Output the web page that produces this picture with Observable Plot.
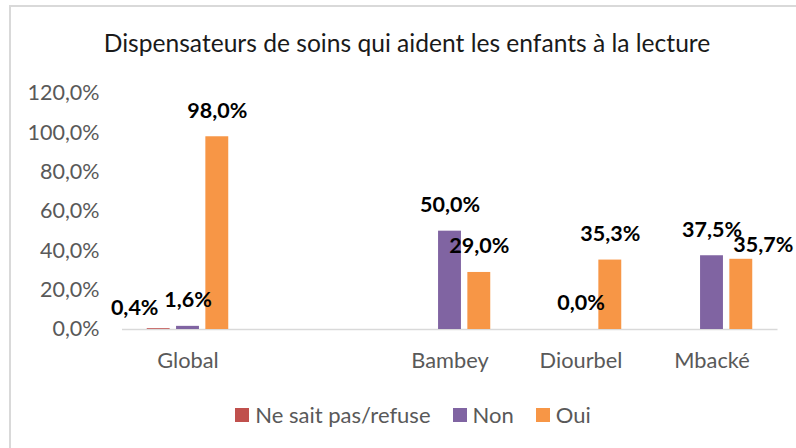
<!DOCTYPE html>
<html><head><meta charset="utf-8">
<script src="https://cdn.jsdelivr.net/npm/d3@7"></script>
<script src="https://cdn.jsdelivr.net/npm/@observablehq/plot@0.6"></script>
<style>
body{margin:0;background:#fff;font-family:Lato,"Open Sans",sans-serif;}
#wrap{position:relative;width:796px;height:448px;overflow:hidden;background:#fff;}
.bl{position:absolute;left:9px;top:5px;width:2px;height:443px;background:#d9d9d9;}
.bt{position:absolute;left:9px;top:5px;width:787px;height:2px;background:#d9d9d9;}
#title{position:absolute;left:0;width:796px;padding-left:18px;box-sizing:border-box;top:28px;text-align:center;font-size:24.6px;line-height:30px;color:#1a1a1a;white-space:nowrap;}
#chart{position:absolute;left:0;top:72px;}
#legend{position:absolute;left:0;width:796px;padding-left:30px;box-sizing:border-box;top:401px;display:flex;justify-content:center;align-items:center;font-size:22px;color:#595959;line-height:28px;}
#legend .item{display:flex;align-items:center;margin:0 11px;}
#legend .sw{width:14px;height:14px;margin-right:6px;}
</style></head><body>
<div id="wrap">
  <div class="bl"></div><div class="bt"></div>
  <div id="title">Dispensateurs de soins qui aident les enfants à la lecture</div>
  <div id="chart"></div>
  <div id="legend"></div>
</div>
<script>
const categories = ["Global", " ", "Bambey", "Diourbel", "Mbacké"];
const series = ["Ne sait pas/refuse", "Non", "Oui"];
const nspValues = [0.004, null, null, null, null];
const nonValues = [0.016, null, 0.500, 0.000, 0.375];
const ouiValues = [0.980, null, 0.290, 0.353, 0.357];
const colors = ["#C0504D", "#8064A2", "#F79646"];
const yTicks = [0, 0.2, 0.4, 0.6, 0.8, 1.0, 1.2];

const valuesBySeries = [nspValues, nonValues, ouiValues];
const rows = [];
series.forEach((s, i) => {
  categories.forEach((c, j) => {
    const v = valuesBySeries[i][j];
    if (v !== null) rows.push({category: c, series: s, value: v});
  });
});

const fmt = v => (v * 100).toFixed(1).replace(".", ",") + "%";

// layout (styling only)
const W = 796, H = 310, mL = 122, mR = 18.5, mT = 21, mB = 53;
const band = (W - mL - mR) / categories.length;
const step = 29.3, barW = 23;
const inset = (band - barW) / 2;
// manual label nudges (as in the original, to avoid overlaps)
const nudges = {"Global|Ne sait pas/refuse": [-24, 5], "Mbacké|Oui": [22, 12]};
const key = d => d.category + "|" + d.series;
const LF = 21.5;

const marks = [Plot.ruleY([0], {stroke: "#d9d9d9", strokeWidth: 1.5})];
series.forEach((s, i) => {
  const data = rows.filter(d => d.series === s);
  const dx = (i - 1) * step;
  marks.push(Plot.barY(data, {x: "category", y: "value", fill: "series", dx, insetLeft: inset, insetRight: inset}));
});
series.forEach((s, i) => {
  const data = rows.filter(d => d.series === s);
  const dx = (i - 1) * step;
  marks.push(Plot.text(data.filter(d => !nudges[key(d)]), {
    x: "category", y: "value", text: d => fmt(d.value), dx, dy: -26,
    fill: "#000", fontWeight: "bold", fontSize: LF, fontFamily: "Lato"
  }));
  data.filter(d => nudges[key(d)]).forEach(d => {
    const [nx, ny] = nudges[key(d)];
    marks.push(Plot.text([d], {
      x: "category", y: "value", text: d => fmt(d.value), dx: dx + nx, dy: -26 + ny,
      fill: "#000", fontWeight: "bold", fontSize: LF, fontFamily: "Lato"
    }));
  });
});
marks.push(Plot.axisY({ticks: yTicks, tickFormat: fmt, tickSize: 0, tickPadding: 23, fontSize: 21.5, fill: "#595959", label: null}));
marks.push(Plot.axisX({tickSize: 0, tickPadding: 23, fontSize: 21.8, fill: "#595959", label: null}));

const chart = Plot.plot({
  width: W, height: H,
  marginLeft: mL, marginRight: mR, marginTop: mT, marginBottom: mB,
  style: {fontFamily: "Lato", background: "transparent", color: "#595959", overflow: "visible"},
  x: {domain: categories, padding: 0, axis: null},
  y: {domain: [0, 1.2], axis: null},
  color: {domain: series, range: colors},
  marks
});
document.getElementById("chart").appendChild(chart);

const legend = document.getElementById("legend");
series.forEach((s, i) => {
  const it = document.createElement("div");
  it.className = "item";
  const sw = document.createElement("div");
  sw.className = "sw";
  sw.style.background = colors[i];
  const t = document.createElement("span");
  t.textContent = s;
  it.appendChild(sw); it.appendChild(t);
  legend.appendChild(it);
});
</script>
</body></html>
